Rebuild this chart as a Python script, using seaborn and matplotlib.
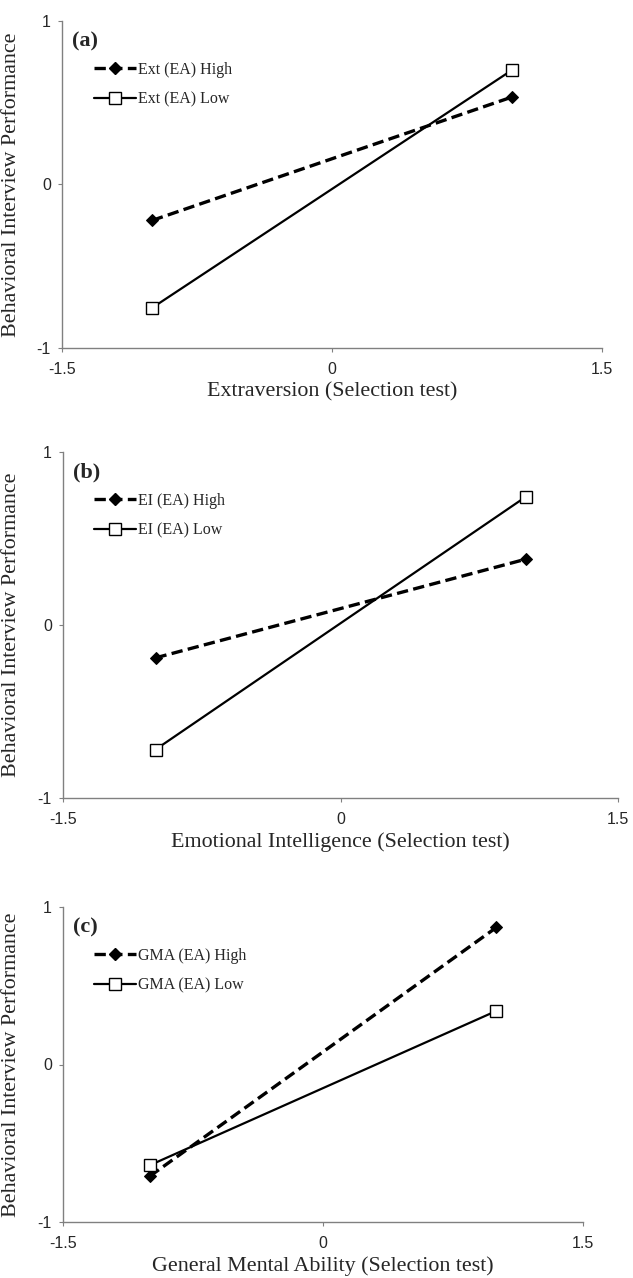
import matplotlib
matplotlib.use("Agg")
import matplotlib.pyplot as plt
import seaborn as sns
import pandas as pd
from matplotlib.lines import Line2D

sns.set_theme(style="ticks")
plt.rcParams['font.family'] = ['Liberation Serif', 'DejaVu Serif']

# ---- data ----
x_levels = [-1, 1]
panel_tags = ["(a)", "(b)", "(c)"]
x_labels = ["Extraversion (Selection test)",
            "Emotional Intelligence (Selection test)",
            "General Mental Ability (Selection test)"]
y_label = "Behavioral Interview Performance"
high_labels = ["Ext (EA) High", "EI (EA) High", "GMA (EA) High"]
low_labels = ["Ext (EA) Low", "EI (EA) Low", "GMA (EA) Low"]
high_a = [-0.22, 0.535]
low_a = [-0.755, 0.70]
high_b = [-0.19, 0.38]
low_b = [-0.72, 0.74]
high_c = [-0.71, 0.87]
low_c = [-0.64, 0.34]
x_ticks = [-1.5, 0, 1.5]
x_ticklabels = ["-1.5", "0", "1.5"]
y_ticks = [-1, 0, 1]
y_ticklabels = ["-1", "0", "1"]

highs = [high_a, high_b, high_c]
lows = [low_a, low_b, low_c]

W, H = 633, 1278
fig = plt.figure(figsize=(W / 100, H / 100), dpi=100)

# pixel boxes: left, right, top, bottom
boxes = [(62, 602, 21, 348), (63, 618, 452, 798), (63, 583, 907, 1222)]

sans = ['Liberation Sans', 'DejaVu Sans']
spine_col = "#808080"

for i in range(3):
    l, r, t, b = boxes[i]
    ax = fig.add_axes([l / W, 1 - b / H, (r - l) / W, (b - t) / H])
    df_h = pd.DataFrame({"x": x_levels, "y": highs[i]})
    df_l = pd.DataFrame({"x": x_levels, "y": lows[i]})
    sns.lineplot(data=df_h, x="x", y="y", ax=ax, color="black", lw=2.4,
                 marker="D", markersize=6.5, markerfacecolor="black",
                 markeredgecolor="black", linestyle="--", zorder=3)
    sns.lineplot(data=df_l, x="x", y="y", ax=ax, color="black", lw=1.6,
                 marker="s", markersize=8.5, markerfacecolor="white",
                 markeredgecolor="black", markeredgewidth=1.0, zorder=4)
    lines = ax.get_lines()
    lines[0].set_dashes((3.4, 1.6))
    ax.set_xlim(-1.5, 1.5)
    ax.set_ylim(-1, 1)
    ax.set_xticks(x_ticks)
    ax.set_xticklabels(x_ticklabels, fontfamily=sans, fontsize=11.5)
    ax.set_yticks(y_ticks)
    ax.set_yticklabels(y_ticklabels, fontfamily=sans, fontsize=11.5)
    ax.tick_params(axis="x", length=3, width=0.8, color=spine_col, pad=7)
    ax.tick_params(axis="y", length=3, width=0.8, color=spine_col, pad=5)
    sns.despine(ax=ax)
    for s in ["left", "bottom"]:
        ax.spines[s].set_color(spine_col)
        ax.spines[s].set_linewidth(1.0)
    ax.set_xlabel(x_labels[i], fontsize=15.8, labelpad=4)
    ax.set_ylabel(y_label, fontsize=15.8)
    ax.yaxis.set_label_coords(-(l - 21) / (r - l), 0.5)

    ax.annotate(panel_tags[i], xy=(0, 1), xycoords="axes fraction",
                xytext=(10, -20), textcoords="offset pixels",
                fontsize=16, fontweight="bold", ha="left", va="center")

    h1 = Line2D([], [], color="black", lw=2.4, marker="D", markersize=6.5,
                markerfacecolor="black", linestyle="--", dashes=(3.4, 1.6))
    h2 = Line2D([], [], color="black", lw=1.6, marker="s", markersize=8.5,
                markerfacecolor="white", markeredgecolor="black", markeredgewidth=1.0)
    leg_top = t + 41
    ax.legend([h1, h2], [high_labels[i], low_labels[i]],
              loc="upper left",
              bbox_to_anchor=((94 - l) / (r - l), 1 - (leg_top - t) / (b - t)),
              frameon=False, fontsize=11.5, handlelength=2.6, handletextpad=0.15,
              labelspacing=0.85, borderaxespad=0, borderpad=0)

fig.savefig("out.png", dpi=100)
